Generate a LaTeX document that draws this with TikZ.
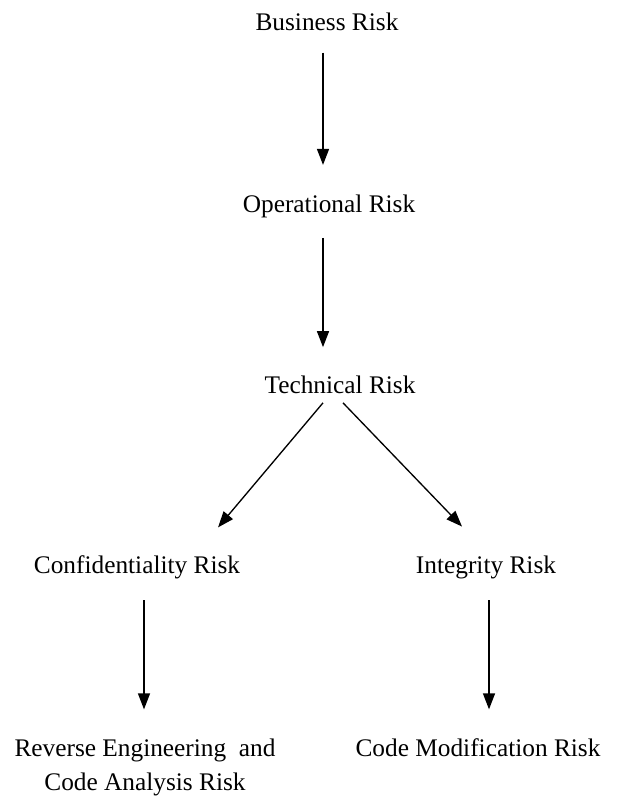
\documentclass[tikz,border=0pt]{standalone}
\usepackage{fontspec}
\setmainfont{Liberation Serif}
\usepackage{tikz}
\usetikzlibrary{arrows.meta, positioning}

\begin{document}
\begin{tikzpicture}[x=0.75pt, y=-0.75pt,
    risk/.style={align=center, inner sep=2pt, font=\fontsize{19}{25.5}\selectfont},
    link/.style={-{Triangle[length=12pt, width=9pt]}, line width=1pt}]
            \useasboundingbox (0,0) rectangle (617,798);

            \node [risk] (business) at (327,22) {Business Risk};
            \node [risk] (operational) at (329,206) {Operational Risk};
            \node [risk] (technical) at (340,385) {Technical Risk};
            \node [risk] (confidentiality) at (137,567) {Confidentiality Risk};
            \node [risk] (integrity) at (486,567) {Integrity Risk};
            \node [risk] (reverse) at (145,767) {Reverse Engineering\ \ and\\ Code Analysis Risk};
            \node [risk] (modification) at (478,748) {Code Modification Risk};

            \draw [link, shorten <=14pt, shorten >=20pt] ([xshift=-3pt]business.south) -- ([xshift=-3pt]business.south |- operational.north);
            \draw [link, shorten <=13pt, shorten >=19.5pt] ([xshift=-4.5pt]operational.south) -- ([xshift=-4.5pt]operational.south |- technical.north);
            \draw [link] ([xshift=-12.75pt, yshift=-4.5pt]technical.south) -- ([xshift=60.75pt, yshift=18.75pt]confidentiality.north);
            \draw [link] ([xshift=2.25pt, yshift=-4.5pt]technical.south) -- ([xshift=-18pt, yshift=19.5pt]integrity.north);
            \draw [link, shorten <=14pt, shorten >=20pt] ([xshift=5.25pt]confidentiality.south) -- ([xshift=5.25pt]confidentiality.south |- modification.north);
            \draw [link, shorten <=14pt, shorten >=20pt] ([xshift=2.25pt]integrity.south) -- ([xshift=2.25pt]integrity.south |- modification.north);
          \end{tikzpicture}
\end{document}
